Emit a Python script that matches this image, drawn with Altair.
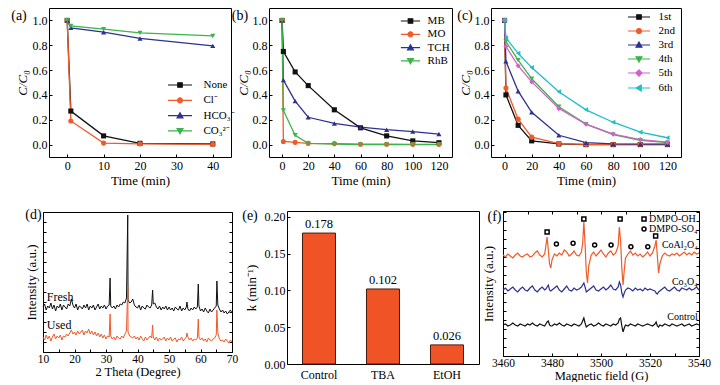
import altair as alt
import pandas as pd

W, H = 704, 374
FONT = "Liberation Serif"
BLACK = "#111111"
ORANGE = "#F15A29"
BLUE = "#2E3192"
GREEN = "#39B54A"
MAGENTA = "#D35FCB"
CYAN = "#1FBFC6"
BAR = "#F05325"

# ---------------- data ----------------
# (a) effect of anions
a_time = [0, 1, 10, 20, 40]
a_names = ["None", "Cl⁻", "HCO₃⁻", "CO₃²⁻"]
a_none = [1.0, 0.27, 0.07, 0.01, 0.005]
a_cl = [1.0, 0.19, 0.012, 0.006, 0.002]
a_hco3 = [1.0, 0.94, 0.905, 0.855, 0.795]
a_co3 = [1.0, 0.955, 0.93, 0.90, 0.875]

# (b) pollutants
b_time = [0, 1, 10, 20, 40, 60, 80, 100, 120]
b_names = ["MB", "MO", "TCH", "RhB"]
b_mb = [1.0, 0.75, 0.585, 0.475, 0.28, 0.135, 0.07, 0.03, 0.015]
b_mo = [1.0, 0.025, 0.018, 0.01, 0.008, 0.003, 0.003, 0.002, 0.002]
b_tch = [1.0, 0.52, 0.35, 0.22, 0.17, 0.14, 0.12, 0.105, 0.085]
b_rhb = [1.0, 0.275, 0.075, 0.01, 0.003, 0.0, 0.0, 0.0, 0.0]

# (c) cycles
c_time = [0, 1, 10, 20, 40, 60, 80, 100, 120]
c_names = ["1st", "2nd", "3rd", "4th", "5th", "6th"]
c_1 = [1.0, 0.40, 0.155, 0.03, 0.005, 0.0, 0.0, 0.0, 0.0]
c_2 = [1.0, 0.455, 0.205, 0.06, 0.008, 0.002, 0.002, 0.002, 0.002]
c_3 = [1.0, 0.67, 0.43, 0.26, 0.075, 0.015, 0.005, 0.003, 0.003]
c_4 = [1.0, 0.83, 0.68, 0.53, 0.305, 0.165, 0.08, 0.035, 0.015]
c_5 = [1.0, 0.79, 0.635, 0.505, 0.29, 0.165, 0.085, 0.04, 0.02]
c_6 = [1.0, 0.86, 0.735, 0.62, 0.425, 0.28, 0.18, 0.10, 0.055]

# (d) XRD (sampled every 0.5 deg, plus peak positions)
xrd_peaks = [31.3, 36.9, 44.8, 55.7, 59.3, 65.2]
xrd_x = sorted([10 + 0.5 * i for i in range(121)] + xrd_peaks)
xrd_fresh = [
    45, 48, 42, 46, 44, 49, 43, 47, 41, 46,
    44, 48, 42, 47, 45, 43, 48, 46, 53, 47,
    44, 48, 42, 46, 45, 43, 47, 44, 48, 42,
    46, 44, 47, 42, 45, 48, 43, 46, 44, 47,
    43, 46, 47, 74, 46, 44, 46, 43, 47, 45, 48,
    47, 50, 49, 54, 137, 52, 49, 50, 53, 47, 45,
    44, 47, 42, 46, 44, 43, 47, 45, 44, 47, 62,
    48, 49, 45, 43, 46, 42, 45, 43, 46, 42,
    45, 42, 44, 41, 45, 43, 42, 46, 41, 44,
    42, 45, 50, 43, 41, 44, 42, 45, 43, 45, 68, 46,
    41, 43, 40, 44, 41, 39, 43, 40, 42, 44,
    46, 71, 47, 43, 40, 42, 39, 41, 38, 40, 42,
    39,
]
xrd_used = [
    15, 12, 17, 13, 16, 11, 15, 18, 13, 16,
    14, 17, 12, 16, 15, 18, 16, 19, 22, 18,
    20, 17, 21, 18, 20, 22, 17, 21, 19, 23,
    18, 21, 17, 20, 16, 19, 15, 18, 14, 17,
    13, 16, 15, 38, 16, 13, 15, 12, 16, 14, 13,
    16, 14, 18, 21, 66, 20, 16, 15, 14, 16, 13,
    15, 12, 16, 13, 11, 15, 12, 14, 16, 14, 27,
    15, 12, 15, 11, 14, 12, 13, 15, 11, 14,
    12, 15, 11, 13, 14, 10, 13, 12, 15, 11,
    13, 15, 19, 15, 12, 14, 11, 13, 12, 14, 33, 15,
    12, 14, 11, 13, 10, 14, 12, 11, 13, 14,
    17, 42, 19, 13, 11, 12, 10, 13, 11, 9, 12,
    10,
]
d_names = ["Fresh", "Used"]
d_label_x = [11.2, 11.2]
d_label_y = [55, 27]

# (e) rate constants
e_cats = ["Control", "TBA", "EtOH"]
e_k = [0.178, 0.102, 0.026]

# (f) EPR
epr_x = [*range(3460, 3478), 3477.5, 3478, 3478.5, 3479, 3479.5,
         *range(3480, 3493), 3492.5, 3493, 3493.5, 3494, 3494.5,
         *range(3495, 3508), 3507.5, 3508, 3508.5, 3509, 3509.5,
         *range(3510, 3523), 3522.5, 3523, 3523.5,
         *range(3524, 3541)]
epr_coal = [
    101, 99, 102, 100, 98, 101, 103, 100, 99, 101, 102, 99, 100, 103, 105, 101, 99, 102,
    110, 119, 106, 92, 88,
    96, 102, 100, 103, 101, 106, 104, 100, 102, 105, 101, 100, 104,
    112, 134, 112, 84, 73,
    90, 101, 104, 100, 103, 106, 102, 99, 103, 105, 101, 103, 110,
    129, 115, 88, 71, 86,
    98, 102, 105, 101, 103, 100, 102, 99, 101, 104, 100, 103, 110,
    116, 100, 83,
    92, 100, 103, 101, 100, 102, 101, 103, 100, 102, 104, 101, 103, 101, 104, 102, 103,
]
epr_co3o4 = [
    66, 68, 65, 67, 69, 66, 64, 67, 69, 66, 65, 68, 70, 66, 64, 67, 69, 66,
    67, 69, 71, 66, 65,
    66, 68, 70, 66, 64, 67, 70, 66, 65, 68, 66, 67, 69,
    71, 73, 69, 64, 65,
    66, 68, 70, 66, 65, 67, 69, 66, 68, 71, 67, 66, 69,
    74, 71, 63, 59, 63,
    66, 68, 67, 65, 68, 66, 67, 65, 68, 66, 67, 66, 65,
    63, 62, 64,
    65, 67, 69, 66, 65, 67, 69, 66, 65, 68, 67, 66, 68, 66, 67, 69, 66,
]
epr_control = [
    31, 32, 30, 31, 33, 31, 30, 32, 31, 30, 32, 31, 33, 31, 30, 32, 31, 30,
    32, 34, 35, 31, 30,
    30, 32, 31, 33, 31, 30, 32, 31, 30, 32, 31, 30, 32,
    35, 38, 33, 29, 30,
    31, 32, 30, 31, 33, 31, 30, 32, 31, 30, 32, 31, 33,
    37, 38, 30, 24, 28,
    31, 30, 32, 31, 30, 32, 31, 30, 31, 32, 31, 30, 32,
    34, 30, 29,
    31, 30, 32, 31, 30, 32, 31, 30, 31, 32, 30, 31, 32, 30, 31, 32, 31,
]
f_names = ["CoAl₂O₄", "Co₃O₄", "Control"]
f_label_x = [3539.5, 3539.5, 3539.5]
f_label_y = [111, 74, 39]
f_mark_kind = ["DMPO-OH"] * 4 + ["DMPO-SO₄"] * 6
f_mark_x = [3478.0, 3493.0, 3507.8, 3522.3, 3481.8, 3488.6, 3497.4, 3504.1, 3512.2, 3519.1]
f_mark_y = [124, 137, 137, 120, 112, 112.7, 111, 111, 109.3, 109.3]

panel_labels = ["(a)", "(b)", "(c)", "(d)", "(e)", "(f)"]

# ---------------- helpers ----------------
def long(xs, names, series):
    rows = []
    for n, vals in zip(names, series):
        for x, v in zip(xs, vals):
            rows.append({"x": x, "v": v, "s": n})
    return pd.DataFrame(rows)


def sx(domain, x0, x1):
    return alt.Scale(domain=domain, range=[x0, x1], nice=False, zero=False)


def sy(domain, y0, y1):
    return alt.Scale(domain=domain, range=[y1, y0], nice=False, zero=False)


TXT = dict(labelFont=FONT, titleFont=FONT, labelFontWeight="normal", titleFontWeight="normal",
           labelColor="black", titleColor="black", domainColor="black", tickColor="black")


def lab_x(Y1, values, title, fmt=None, pad=3, tpad=2, fs=12, tfs=13):
    kw = dict(orient="bottom", offset=-(H - Y1), ticks=False, tickSize=0, domain=True,
              labelPadding=pad, titlePadding=tpad, labelFlush=False, labelOverlap=False,
              labelAngle=0, title=title, labelFontSize=fs, titleFontSize=tfs, **TXT)
    if values is not None:
        kw["values"] = values
    if fmt:
        kw["format"] = fmt
    return alt.Axis(**kw)


def lab_y(X0, values, title, fmt=None, pad=2, tpad=3, labels=True, italic=False, fs=12, tfs=13):
    kw = dict(orient="left", offset=-X0, ticks=False, tickSize=0, domain=True,
              labelPadding=pad, titlePadding=tpad, labelFlush=False, labelOverlap=False,
              labels=labels, title=title, labelFontSize=fs, titleFontSize=tfs, **TXT)
    if values is not None:
        kw["values"] = values
    if fmt:
        kw["format"] = fmt
    if italic:
        kw["titleFontStyle"] = "italic"
    return alt.Axis(**kw)


def tk(vals, domain):
    kw = dict(labels=False, title=None, domain=domain, domainColor="black", tickColor="black")
    if vals is None:
        kw["ticks"] = False
    else:
        kw.update(ticks=True, values=vals, tickSize=3)
    return kw


def frame_layers(df, xf, yf, xs, ys, X0, X1, Y0, Y1, xb=None, yl=None, xtop=None, yr=None):
    # inward ticks: axes of opposite orientation placed on the frame edges
    f1 = alt.Chart(df).mark_point(opacity=0).encode(
        x=alt.X(xf, scale=xs, axis=alt.Axis(orient="top", offset=-Y1, **tk(xb, False))),
        y=alt.Y(yf, scale=ys, axis=alt.Axis(orient="right", offset=-(W - X0), **tk(yl, False))),
    )
    f2 = alt.Chart(df).mark_point(opacity=0).encode(
        x=alt.X(xf, scale=xs, axis=alt.Axis(orient="bottom", offset=-(H - Y0), **tk(xtop, True))),
        y=alt.Y(yf, scale=ys, axis=alt.Axis(orient="left", offset=-X1, **tk(yr, True))),
    )
    return [f1, f2]


MK = {
    "square": "M-1,-1H1V1H-1Z",
    "circle": "M1.1,0A1.1,1.1,0,1,1,-1.1,0A1.1,1.1,0,1,1,1.1,0Z",
    "triangle-up": "M0,-1.3L1.3,1H-1.3Z",
    "triangle-down": "M0,1.3L1.3,-1H-1.3Z",
    "diamond": "M0,-1.4L1.4,0L0,1.4L-1.4,0Z",
    "triangle-left": "M-1.3,0L1,-1.3V1.3Z",
}

CC_VALS = [0, 0.2, 0.4, 0.6, 0.8, 1.0]


def curve_panel(df, names, colors, shapes, geom, xdom, xvals, leg, tpad):
    X0, X1, Y0, Y1 = geom
    xs = sx(xdom, X0, X1)
    ys = sy([-0.1, 1.1], Y0, Y1)
    col = alt.Color("s:N", scale=alt.Scale(domain=names, range=colors), legend=None)
    line = alt.Chart(df).mark_line(strokeWidth=1.3).encode(
        x=alt.X("x:Q", scale=xs, axis=lab_x(Y1, xvals, "Time (min)", pad=3, tpad=3)),
        y=alt.Y("v:Q", scale=ys, axis=lab_y(X0, CC_VALS, "C/C₀", fmt=".1f", pad=2, tpad=tpad, italic=True)),
        color=col,
    )
    pts = alt.Chart(df).mark_point(filled=True, size=26, opacity=1).encode(
        x=alt.X("x:Q", scale=xs, axis=None),
        y=alt.Y("v:Q", scale=ys, axis=None),
        color=col,
        shape=alt.Shape("s:N", scale=alt.Scale(domain=names, range=shapes), legend=None),
    )
    fr = frame_layers(df, "x:Q", "v:Q", xs, ys, X0, X1, Y0, Y1, xb=xvals, yl=CC_VALS)
    half = leg["half"]
    paths = [f"M{-half},0H{half}" + MK[m] for m in shapes]
    lg = alt.Legend(orient="none", legendX=leg["x"], legendY=leg["y"], title=None, padding=0,
                    symbolSize=20.25, symbolStrokeWidth=1.2, symbolOffset=leg["so"],
                    labelOffset=leg["lo"], labelFontSize=11, labelFont=FONT, labelColor="black",
                    rowPadding=leg["rp"], symbolOpacity=1)
    lgl = alt.Chart(df).mark_point(filled=True, opacity=0).encode(
        fill=alt.Fill("s:N", scale=alt.Scale(domain=names, range=colors), legend=lg),
        stroke=alt.Stroke("s:N", scale=alt.Scale(domain=names, range=colors), legend=lg),
        shape=alt.Shape("s:N", scale=alt.Scale(domain=names, range=paths), legend=lg),
    )
    return [line, pts, *fr, lgl]


layers = []

# (a)
a_df = long(a_time, a_names, [a_none, a_cl, a_hco3, a_co3])
layers += curve_panel(a_df, a_names, [BLACK, ORANGE, BLUE, GREEN],
                      ["square", "circle", "triangle-up", "triangle-down"],
                      (41, 223, 0, 149), [-5, 45], [0, 10, 20, 30, 40],
                      dict(x=160, y=71.5, so=6.5, lo=18, half=5.33, rp=3.3), 3)

# (b)
b_df = long(b_time, b_names, [b_mb, b_mo, b_tch, b_rhb])
layers += curve_panel(b_df, b_names, [BLACK, ORANGE, BLUE, GREEN],
                      ["square", "circle", "triangle-up", "triangle-down"],
                      (261, 444, 0, 149), [-10, 130], [0, 20, 40, 60, 80, 100, 120],
                      dict(x=392.9, y=7.5, so=4.1, lo=11.6, half=4.27, rp=1.3), 2)

# (c)
c_df = long(c_time, c_names, [c_1, c_2, c_3, c_4, c_5, c_6])
layers += curve_panel(c_df, c_names, [BLACK, ORANGE, BLUE, GREEN, MAGENTA, CYAN],
                      ["square", "circle", "triangle-up", "triangle-down", "diamond", "triangle-left"],
                      (483, 673, 0, 149), [-10, 130], [0, 20, 40, 60, 80, 100, 120],
                      dict(x=620, y=3.5, so=5.5, lo=14, half=4.9, rp=2), 2)

# (d)
X0, X1, Y0, Y1 = 35, 224, 204, 344
d_df = long(xrd_x, d_names, [xrd_fresh, xrd_used])
xs = sx([10, 70], X0, X1)
ys = sy([0, 140], Y0, Y1)
layers.append(alt.Chart(d_df).mark_line(strokeWidth=1).encode(
    x=alt.X("x:Q", scale=xs, axis=lab_x(Y1, [10, 20, 30, 40, 50, 60, 70], "2 Theta (Degree)",
                                         pad=1, tpad=1, fs=11.5, tfs=12.5)),
    y=alt.Y("v:Q", scale=ys, axis=lab_y(X0, None, "Intensity (a.u.)", labels=False, tpad=5)),
    color=alt.Color("s:N", scale=alt.Scale(domain=d_names, range=[BLACK, ORANGE]), legend=None),
))
layers += frame_layers(d_df, "x:Q", "v:Q", xs, ys, X0, X1, Y0, Y1,
                       xb=list(range(10, 71, 5)), yl=list(range(0, 141, 10)),
                       xtop=None, yr=list(range(0, 141, 10)))
layers.append(alt.Chart(pd.DataFrame({"x": d_label_x, "y": d_label_y, "t": d_names})).mark_text(
    align="left", baseline="middle", fontSize=12).encode(
    x=alt.X("x:Q", scale=xs, axis=None), y=alt.Y("y:Q", scale=ys, axis=None), text="t:N"))

# (e)
X0, X1, Y0, Y1 = 279, 471, 203, 356
e_df = pd.DataFrame({"c": e_cats, "k": e_k})
xs = alt.Scale(domain=e_cats, range=[X0, X1], paddingInner=0, paddingOuter=0)
ys = sy([0, 0.208], Y0, Y1)
K_VALS = [0, 0.05, 0.1, 0.15, 0.2]
layers.append(alt.Chart(e_df).mark_bar(size=33, color=BAR, stroke="#4d1a0c", strokeWidth=1).encode(
    x=alt.X("c:N", scale=xs, axis=lab_x(Y1, None, None, pad=5)),
    y=alt.Y("k:Q", scale=ys, axis=lab_y(X0, K_VALS, "k (min⁻¹)", fmt=".2f", pad=2, tpad=6)),
))
layers.append(alt.Chart(e_df).mark_text(baseline="bottom", dy=-2, fontSize=12.5).encode(
    x=alt.X("c:N", scale=xs, axis=None),
    y=alt.Y("k:Q", scale=ys, axis=None),
    text=alt.Text("k:Q", format=".3f"),
))
layers += frame_layers(e_df, "c:N", "k:Q", xs, ys, X0, X1, Y0, Y1, xb=None, yl=K_VALS)

# (f)
X0, X1, Y0, Y1 = 495, 691, 203, 348
f_df = long(epr_x, f_names, [epr_coal, epr_co3o4, epr_control])
xs = sx([3460, 3540], X0, X1)
ys = sy([0, 145], Y0, Y1)
layers.append(alt.Chart(f_df).mark_line(strokeWidth=1.2).encode(
    x=alt.X("x:Q", scale=xs, axis=lab_x(Y1, [3460, 3480, 3500, 3520, 3540], "Magnetic field (G)",
                                         fmt="d", pad=1, tpad=1, fs=11.5, tfs=12.5)),
    y=alt.Y("v:Q", scale=ys, axis=lab_y(X0, None, "Intensity (a.u.)", labels=False, tpad=8)),
    color=alt.Color("s:N", scale=alt.Scale(domain=f_names, range=[ORANGE, BLUE, BLACK]), legend=None),
))
f_ticks_x = list(range(3460, 3541, 10))
f_ticks_y = list(range(0, 146, 9))
layers += frame_layers(f_df, "x:Q", "v:Q", xs, ys, X0, X1, Y0, Y1,
                       xb=f_ticks_x, yl=f_ticks_y, xtop=f_ticks_x, yr=f_ticks_y)
flg = alt.Legend(orient="none", legendX=631, legendY=206, title=None, padding=0,
                 symbolSize=16, symbolStrokeWidth=1.5, labelOffset=0, labelFontSize=10,
                 labelFont=FONT, labelColor="black", rowPadding=-1.5, symbolOpacity=1,
                 symbolStrokeColor="black")
layers.append(alt.Chart(pd.DataFrame({"x": f_mark_x, "y": f_mark_y, "kind": f_mark_kind})).mark_point(
    filled=False, color="black", strokeWidth=1.5, size=16, opacity=1).encode(
    x=alt.X("x:Q", scale=xs, axis=None),
    y=alt.Y("y:Q", scale=ys, axis=None),
    shape=alt.Shape("kind:N", scale=alt.Scale(domain=["DMPO-OH", "DMPO-SO₄"], range=["square", "circle"]),
                    legend=flg),
))
layers.append(alt.Chart(pd.DataFrame({"x": f_label_x, "y": f_label_y, "t": f_names})).mark_text(
    align="right", baseline="middle", fontSize=10).encode(
    x=alt.X("x:Q", scale=xs, axis=None), y=alt.Y("y:Q", scale=ys, axis=None), text="t:N"))

# panel letters
letter_pos = [(11, 8), (232, 8), (457, 8), (25.5, 207), (242, 208), (486.5, 209)]
for lab, (px, py) in zip(panel_labels, letter_pos):
    layers.append(alt.Chart(pd.DataFrame({"t": [lab]})).mark_text(
        fontSize=14, align="center", baseline="middle").encode(
        text="t:N", x=alt.value(px), y=alt.value(py)))

chart = (
    alt.layer(*layers)
    .resolve_scale(x="independent", y="independent", color="independent", fill="independent",
                   stroke="independent", shape="independent")
    .resolve_axis(x="independent", y="independent")
    .resolve_legend(color="independent", fill="independent", stroke="independent", shape="independent")
    .properties(width=W, height=H, autosize=alt.AutoSizeParams(type="none"), padding=0,
                background="white")
    .configure(font=FONT)
    .configure_view(stroke="transparent")
    .configure_axis(grid=False, domainColor="black", tickColor="black", labelColor="black",
                    titleColor="black", labelFont=FONT, titleFont=FONT, titleFontWeight="normal",
                    labelFontWeight="normal", labelFontSize=12, titleFontSize=13, domainWidth=1,
                    tickWidth=1)
    .configure_axisX(titleFontWeight="normal", labelFont=FONT, titleFont=FONT)
    .configure_axisBottom(titleFontWeight="normal", labelFont=FONT, titleFont=FONT)
    .configure_legend(labelFont=FONT, labelColor="black")
    .configure_text(font=FONT, color="black")
)

chart.save("out.html", embed_options={"renderer": "svg", "actions": False})
